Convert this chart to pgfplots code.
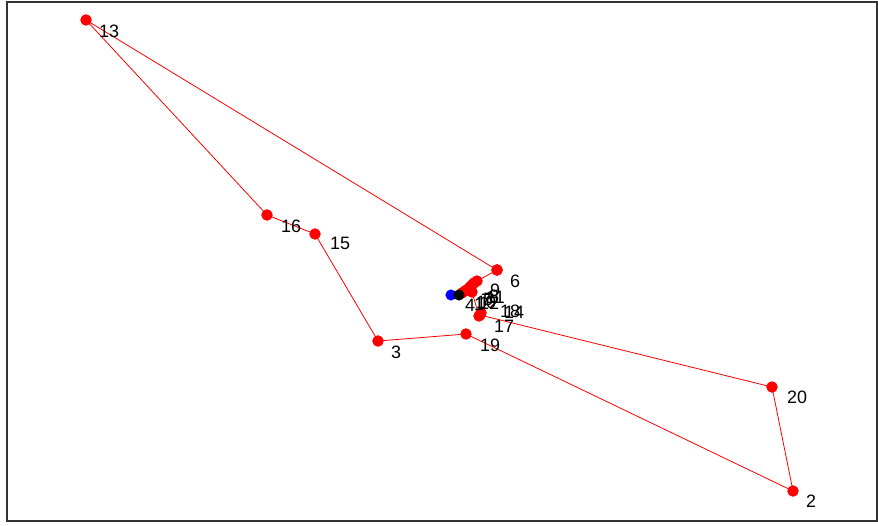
\documentclass[border=0pt]{standalone}
\usepackage{pgfplots}
\pgfplotsset{compat=1.18}
\usepackage{fontspec}
\setmainfont{Liberation Sans}
\begin{document}
\begin{tikzpicture}
\begin{axis}[
  scale only axis, width=870bp, height=519bp,
  xmin=7, xmax=877, ymin=2, ymax=521, y dir=reverse,
  axis line style={draw=black!80, line width=1.2bp},
  xtick=\empty, ytick=\empty, clip=false,
]
% path through the points (pixel-like coordinates)
\addplot[red, line width=0.8bp, mark=*, mark size=5.3bp, mark options={fill=red, draw=red}] coordinates {
 (497,270) (86,20) (267,215) (315,234) (378,341) (466,334) (793,491) (772,387)
 (480,315) (481,313) (479,316) (472,292) (462,293) (465,291) (468,289) (467,290)
 (470,287) (472,285) (474,283) (477,281) (497,270)
};
\addplot[only marks, mark=*, mark size=5.3bp, blue] coordinates {(451,295)};
\addplot[only marks, mark=*, mark size=5.3bp, black] coordinates {(459,295)};
% labels
\addplot[draw=none, mark=none, nodes near coords, point meta=explicit symbolic,
  nodes near coords style={anchor=west, inner sep=0pt, font=\fontsize{18}{20}\selectfont, text=black}]
 coordinates {
 (99,31) [13] (281,226) [16] (330,243) [15] (391,352) [3] (480,345) [19]
 (510,281) [6] (787,397) [20] (806,501) [2] (494,326) [17] (504,312) [14]
 (500,311) [18] (465,305) [4] (474,304) [1] (476,302) [10] (479,303) [12]
 (481,300) [7] (483,299) [5] (489,296) [8] (490,290) [9] (486,297) [11]
};
\end{axis}
\path (current axis.south west) ++(-7bp,-4bp);
\path (current axis.north east) ++(1bp,2bp);
\end{tikzpicture}
\end{document}
